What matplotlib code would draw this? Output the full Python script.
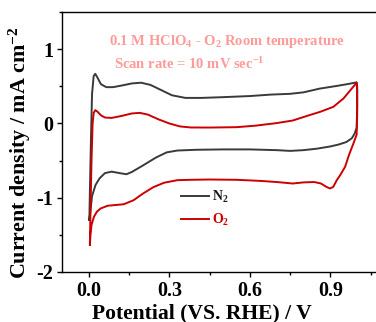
import matplotlib
matplotlib.use("Agg")
import matplotlib.pyplot as plt
from matplotlib.ticker import MultipleLocator

plt.rcParams['font.family'] = ['Liberation Serif', 'DejaVu Serif']
plt.rcParams['font.weight'] = 'bold'
plt.rcParams['mathtext.fontset'] = 'custom'
plt.rcParams['mathtext.rm'] = 'Liberation Serif:bold'
plt.rcParams['mathtext.it'] = 'Liberation Serif:bold'
plt.rcParams['mathtext.bf'] = 'Liberation Serif:bold'

# N2 cyclic voltammogram (anodic then cathodic sweep)
n2_x = [0.002, 0.004, 0.008, 0.012, 0.018, 0.024, 0.032, 0.045, 0.065, 0.09, 0.12, 0.16, 0.195,
        0.23, 0.27, 0.31, 0.36, 0.42, 0.5, 0.6, 0.68, 0.75, 0.8, 0.86, 0.93, 0.97, 0.998,
        1.0, 1.0, 0.998, 0.99, 0.98, 0.96, 0.93, 0.9, 0.85, 0.8, 0.75, 0.7, 0.6, 0.5, 0.4,
        0.33, 0.29, 0.25, 0.2, 0.16, 0.14, 0.115, 0.085, 0.06, 0.04, 0.025, 0.012, 0.006, 0.002]
n2_y = [-1.30, -0.9, -0.2, 0.4, 0.64, 0.67, 0.62, 0.53, 0.49, 0.49, 0.51, 0.54, 0.55,
        0.52, 0.45, 0.38, 0.345, 0.345, 0.355, 0.37, 0.39, 0.40, 0.42, 0.47, 0.51, 0.535, 0.555,
        0.5, 0.2, -0.06, -0.14, -0.2, -0.25, -0.285, -0.31, -0.34, -0.36, -0.37, -0.36, -0.35, -0.35, -0.355,
        -0.365, -0.39, -0.46, -0.57, -0.655, -0.685, -0.67, -0.65, -0.67, -0.74, -0.83, -0.98, -1.18, -1.30]

# O2 cyclic voltammogram
o2_x = [0.004, 0.006, 0.01, 0.014, 0.018, 0.024, 0.032, 0.045, 0.06, 0.085, 0.12, 0.16, 0.19,
        0.22, 0.26, 0.3, 0.34, 0.38, 0.45, 0.55, 0.62, 0.70, 0.76, 0.82, 0.862, 0.911, 0.949, 0.98, 0.998,
        1.0, 1.0, 0.998, 0.986, 0.97, 0.955, 0.938, 0.924, 0.911, 0.899, 0.885, 0.865, 0.84, 0.8, 0.76, 0.7,
        0.64, 0.55, 0.45, 0.38, 0.33, 0.28, 0.24, 0.2, 0.167, 0.13, 0.1, 0.07, 0.044, 0.03, 0.019,
        0.01, 0.006, 0.004]
o2_y = [-1.64, -1.2, -0.5, 0.0, 0.14, 0.18, 0.16, 0.11, 0.08, 0.075, 0.1, 0.135, 0.143,
        0.12, 0.055, 0.0, -0.04, -0.054, -0.055, -0.05, -0.03, 0.005, 0.04, 0.11, 0.157, 0.224, 0.337, 0.472, 0.55,
        0.45, 0.1, -0.15, -0.27, -0.42, -0.585, -0.69, -0.765, -0.855, -0.877, -0.855, -0.81, -0.79, -0.795, -0.81, -0.79,
        -0.775, -0.76, -0.756, -0.76, -0.765, -0.8, -0.86, -0.95, -1.035, -1.09, -1.1, -1.11, -1.147, -1.19, -1.26,
        -1.37, -1.5, -1.64]

labels = [r'N$_2$', r'O$_2$']
colors = ['#3a3a3a', '#cc0000']
label_colors = ['#1a1a1a', '#cc0000']
xticks = [0.0, 0.3, 0.6, 0.9]
yticks = [-2, -1, 0, 1]

fig = plt.figure(figsize=(3.76, 3.22), dpi=100)
ax = fig.add_axes([62/376, 1 - 271.7/322, (384 - 62)/376, (271.7 - 12.3)/322])

ax.plot(n2_x, n2_y, color=colors[0], lw=1.4, label=labels[0])
ax.plot(o2_x, o2_y, color=colors[1], lw=1.4, label=labels[1])

ax.set_xlim(-0.1, 1.1)
ax.set_ylim(-2, 1.5)
ax.set_xticks(xticks)
ax.set_xticklabels([f'{v:.1f}' for v in xticks])
ax.set_yticks(yticks)
ax.set_yticklabels([str(v) for v in yticks])
ax.xaxis.set_minor_locator(MultipleLocator(0.15))
ax.yaxis.set_minor_locator(MultipleLocator(0.5))
ax.tick_params(which='major', direction='out', length=3.5, width=1, labelsize=14.5)
ax.tick_params(axis='x', which='major', pad=3.5)
ax.tick_params(axis='y', which='major', pad=3)
ax.tick_params(which='minor', direction='out', length=2.5, width=1)
for sp in ax.spines.values():
    sp.set_linewidth(1.0)

ax.set_xlabel('Potential (VS. RHE) / V', fontsize=15.6, fontweight='bold')
ax.set_ylabel(r'Current density / mA cm$^{-2}$', fontsize=15.8, fontweight='bold')
ax.xaxis.set_label_coords(0.433, -0.122)
ax.yaxis.set_label_coords(-0.09, 0.46)

ax.text(0.077, 1.1, r'0.1 M HClO$_4$ - O$_2$ Room temperature', color='#ff9a9a',
        fontsize=10.5, fontweight='bold', va='center')
ax.text(0.092, 0.8, r'Scan rate = 10 mV sec$^{-1}$', color='#ff9a9a',
        fontsize=10.5, fontweight='bold', va='center')

leg = ax.legend(loc='upper left', bbox_to_anchor=(181/376, 1 - 189/322),
                bbox_transform=fig.transFigure, frameon=False, fontsize=10,
                handlelength=2.0, handletextpad=0.2, labelspacing=0.5,
                borderpad=0, borderaxespad=0, labelcolor=label_colors)

fig.savefig('out.png', dpi=100)
